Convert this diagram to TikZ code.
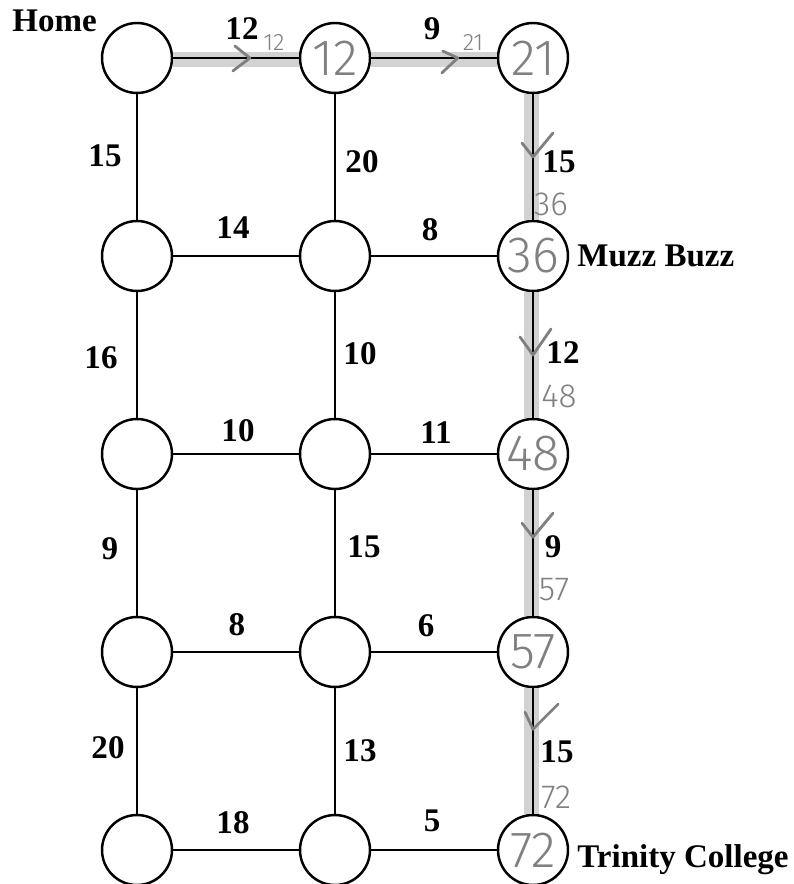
\documentclass[tikz,border=0pt]{standalone}
\usepackage{fontspec}
\setmainfont{Liberation Serif}
\newfontfamily\hand{Fira Sans Light}
\usetikzlibrary{calc}
\definecolor{pencil}{HTML}{808080}
\definecolor{marker}{HTML}{D2D2D2}
\tikzset{
  spot/.style={circle, draw=black, line width=1.4pt, minimum size=1.4cm, inner sep=0pt},
  road/.style={line width=1.1pt},
  wt/.style={font=\fontsize{18.8}{20}\selectfont\bfseries, inner sep=0pt},
  place/.style={font=\fontsize{18.8}{20}\selectfont\bfseries, inner sep=0pt, anchor=base west},
  tally/.style={font=\hand\fontsize{29}{29}\selectfont, text=pencil, inner sep=0pt},
  note/.style={font=\hand\fontsize{19}{19}\selectfont, text=pencil, inner sep=0pt},
  smallnote/.style={font=\hand\fontsize{13.5}{13.5}\selectfont, text=pencil, inner sep=0pt},
  glow/.style={line width=0.3cm, color=marker},
  chev/.style={line width=1.6pt, pencil, line cap=round, line join=round}
}

\begin{document}
\begin{tikzpicture}[x=0.02cm, y=-0.02cm]
  \useasboundingbox (0,0) rectangle (793,884);

  %%%%% junctions %%%%%
  \foreach \r in {0,...,4}
    \foreach \c in {0,1,2}
      \node[spot] (n\r\c) at ({137+198*\c}, {58+198*\r}) {};

  %%%%% marked route %%%%%
  \draw[glow, transform canvas={yshift=-0.04cm}] (n00) -- (n01);
  \draw[glow, transform canvas={yshift=-0.04cm}] (n01) -- (n02);
  \draw[glow, transform canvas={xshift=-0.04cm}] (n02) -- (n12);
  \draw[glow, transform canvas={xshift=-0.04cm}] (n12) -- (n22);
  \draw[glow, transform canvas={xshift=-0.04cm}] (n22) -- (n32);
  \draw[glow, transform canvas={xshift=-0.04cm}] (n32) -- (n42);

  %%%%% roads %%%%%
  \foreach \r in {0,...,4} {
    \draw[road] (n\r0) -- (n\r1);
    \draw[road] (n\r1) -- (n\r2);
  }
  \foreach \r/\s in {0/1,1/2,2/3,3/4}
    \foreach \c in {0,1,2}
      \draw[road] (n\r\c) -- (n\s\c);

  %%%%% weights %%%%%
  \node[wt] (w0a) at (242, 29) {12};
  \node[wt] (w0b) at (432, 29) {9};
  \node[wt] (w1a) at (233, 228) {14};
  \node[wt] (w1b) at (430, 230) {8};
  \node[wt] (w2a) at (238, 431) {10};
  \node[wt] (w2b) at (436, 433) {11};
  \node[wt] (w3a) at (237, 625) {8};
  \node[wt] (w3b) at (426, 626) {6};
  \node[wt] (w4a) at (233, 823) {18};
  \node[wt] (w4b) at (432, 821) {5};

  \node[wt] (v0a) at (105, 156) {15};
  \node[wt] (v1a) at (101, 358) {16};
  \node[wt] (v2a) at (110, 549) {9};
  \node[wt] (v3a) at (108, 748) {20};
  \node[wt] (v0b) at (362, 162) {20};
  \node[wt] (v1b) at (360, 354) {10};
  \node[wt] (v2b) at (364, 547) {15};
  \node[wt] (v3b) at (360, 751) {13};
  \node[wt] (v0c) at (559, 162) {15};
  \node[wt] (v1c) at (563, 353) {12};
  \node[wt] (v2c) at (553, 547) {9};
  \node[wt] (v3c) at (557, 752) {15};

  %%%%% places %%%%%
  \node[place] (home) at (12, 32) {Home};
  \node[place] (muzz) at (577, 267) {Muzz Buzz};
  \node[place] (trinity) at (577, 867) {Trinity College};

  %%%%% pencil notes %%%%%
  \node[tally] (t01) at (n01) {12};
  \node[tally] (t02) at (n02) {21};
  \node[tally] (t12) at (n12) {36};
  \node[tally] (t22) at (n22) {48};
  \node[tally] (t32) at (n32) {57};
  \node[tally] (t42) at (n42) {72};

  \node[smallnote] (s0a) at (274, 42) {12};
  \node[smallnote] (s0b) at (473, 42) {21};
  \node[note] (s0c) at (551, 204) {36};
  \node[note] (s1c) at (559, 396) {48};
  \node[note] (s2c) at (554, 590) {57};
  \node[note] (s3c) at (556, 797) {72};

  \draw[chev] ($(n00)!0.57!(n01)$) ++(-15,-12) -- ++(15,12) -- ++(-17,13);
  \draw[chev] ($(n01)!0.62!(n02)$) ++(-15,-7) -- ++(15,7) -- ++(-16,15);
  \draw[chev] ($(n02)!0.50!(n12)$) ++(-11,-14) -- ++(11,14) -- ++(20,-24);
  \draw[chev] ($(n12)!0.50!(n22)$) ++(-13,-18) -- ++(13,18) -- ++(18,-26);
  \draw[chev] ($(n22)!0.42!(n32)$) ++(-11,-14) -- ++(11,14) -- ++(20,-24);
  \draw[chev] ($(n32)!0.39!(n42)$) ++(-8,-17) -- ++(8,17) -- ++(25,-25);
\end{tikzpicture}
\end{document}
